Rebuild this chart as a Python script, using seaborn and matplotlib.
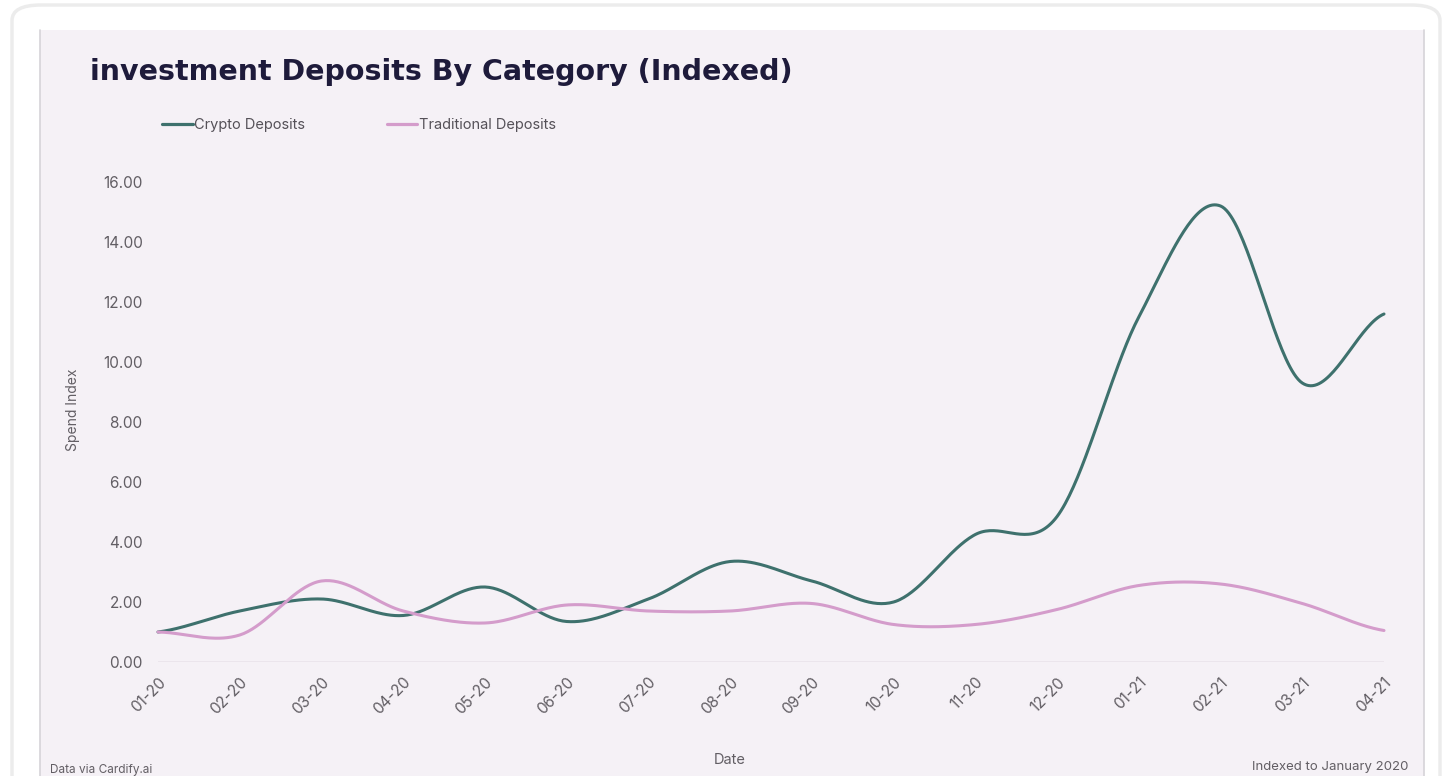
import numpy as np
import pandas as pd
import matplotlib
matplotlib.use("Agg")
import matplotlib.pyplot as plt
from matplotlib.patches import FancyBboxPatch, Rectangle
import seaborn as sns

# Monthly index values (January 2020 = 1.0)
months = ["01-20", "02-20", "03-20", "04-20", "05-20", "06-20", "07-20", "08-20",
          "09-20", "10-20", "11-20", "12-20", "01-21", "02-21", "03-21", "04-21"]
crypto = [1.0, 1.7, 2.1, 1.55, 2.5, 1.35, 2.1, 3.35, 2.7, 2.0, 4.25, 4.85, 11.5, 15.2, 9.3, 11.6]
traditional = [1.0, 0.9, 2.7, 1.7, 1.3, 1.9, 1.7, 1.7, 1.95, 1.25, 1.25, 1.75, 2.55, 2.6, 1.95, 1.05]
series_names = ["Crypto Deposits", "Traditional Deposits"]
colors = ["#3e716d", "#d49ccb"]
y_ticks = [0, 2, 4, 6, 8, 10, 12, 14, 16]


def catmull_rom(values, steps=40):
    """Smooth a series with a Catmull-Rom spline through every value."""
    v = np.asarray(values, dtype=float)
    n = len(v)
    xs, ys = [], []
    for i in range(n - 1):
        p0 = v[max(i - 1, 0)]
        p1 = v[i]
        p2 = v[i + 1]
        p3 = v[min(i + 2, n - 1)]
        t = np.linspace(0, 1, steps, endpoint=(i == n - 2))
        seg = 0.5 * ((2 * p1) + (-p0 + p2) * t
                     + (2 * p0 - 5 * p1 + 4 * p2 - p3) * t ** 2
                     + (-p0 + 3 * p1 - 3 * p2 + p3) * t ** 3)
        xs.append(i + t)
        ys.append(seg)
    return np.concatenate(xs), np.concatenate(ys)


frames = []
for name, vals in zip(series_names, [crypto, traditional]):
    sx, sy = catmull_rom(vals)
    frames.append(pd.DataFrame({"x": sx, "value": sy, "series": name}))
df = pd.concat(frames, ignore_index=True)

sns.set_theme(style="white")
plt.rcParams["font.family"] = ["Inter", "DejaVu Sans"]

W, H = 1451, 776
fig = plt.figure(figsize=(W / 100, H / 100), dpi=100)
fig.patch.set_facecolor("white")

# Outer card frame and inner tinted panel (kept behind the axes)
fig.patches.append(FancyBboxPatch((12 / W, -0.05), (1428 / W), (1 - 5 / H) + 0.05,
                                  boxstyle="round,pad=0,rounding_size=0.02",
                                  transform=fig.transFigure, facecolor="white",
                                  edgecolor="#ececec", linewidth=2.5, zorder=-3))
fig.patches.append(Rectangle((40 / W, 0), (1384 / W), 1 - 30 / H,
                             transform=fig.transFigure, facecolor="#f5f1f6",
                             edgecolor="none", zorder=-2))
for xe in (40, 1424):
    fig.add_artist(plt.Line2D([xe / W, xe / W], [0, 1 - 30 / H], transform=fig.transFigure,
                              color="#d6d3d8", linewidth=1.2, zorder=-1))

left, right = 158 / W, 1384 / W
bottom, top = 1 - 662 / H, 1 - 182 / H
ax = fig.add_axes([left, bottom, right - left, top - bottom])
ax.set_facecolor("none")

sns.lineplot(data=df, x="x", y="value", hue="series", palette=colors,
             hue_order=series_names, sort=False, estimator=None,
             linewidth=2.2, ax=ax, legend=False)
for ln in ax.lines:
    ln.set_clip_on(False)
    ln.set_solid_capstyle("round")

tick_color = "#625e64"
ax.set_xlim(0, len(months) - 1)
ax.set_ylim(0, 16)
ax.set_yticks(y_ticks)
ax.set_yticklabels([f"{v:.2f}" for v in y_ticks], color=tick_color, fontsize=11)
ax.set_xticks(range(len(months)))
ax.set_xticklabels(months, rotation=45, ha="right", rotation_mode="anchor",
                   color=tick_color, fontsize=11)
ax.tick_params(axis="y", length=0, pad=11)
ax.tick_params(axis="x", length=0, pad=9)
for s in ax.spines.values():
    s.set_visible(False)
ax.axhline(0, color="#e9e3ea", linewidth=1.2, zorder=0)

ax.set_xlabel("")
ax.set_ylabel("")
fig.text(73 / W, 1 - 410 / H, "Spend Index", rotation=90, ha="center", va="center",
         fontsize=10, color=tick_color)
fig.text(730 / W, 1 - 760 / H, "Date", ha="center", va="center",
         fontsize=10.5, color=tick_color)

fig.text(90 / W, 1 - 72 / H, "investment Deposits By Category (Indexed)",
         ha="left", va="center", fontsize=20.5, fontweight="bold",
         color="#1e1b3b", family=["DejaVu Sans"])

# Legend
handles = [plt.Line2D([], [], color=c, linewidth=2.3) for c in colors]
fig.legend(handles, series_names, loc="center left", bbox_to_anchor=(162 / W, 1 - 125 / H),
           ncol=2, frameon=False, fontsize=10.5, handlelength=2.1, handletextpad=0.1,
           columnspacing=5.6, labelcolor="#555158", borderpad=0, borderaxespad=0)

fig.text(50 / W, 1 - 770 / H, "Data via Cardify.ai", ha="left", va="center",
         fontsize=8.5, color=tick_color)
fig.text(1408 / W, 1 - 767 / H, "Indexed to January 2020", ha="right", va="center",
         fontsize=9.5, color=tick_color)

fig.savefig("out.png", dpi=100, facecolor="white")
